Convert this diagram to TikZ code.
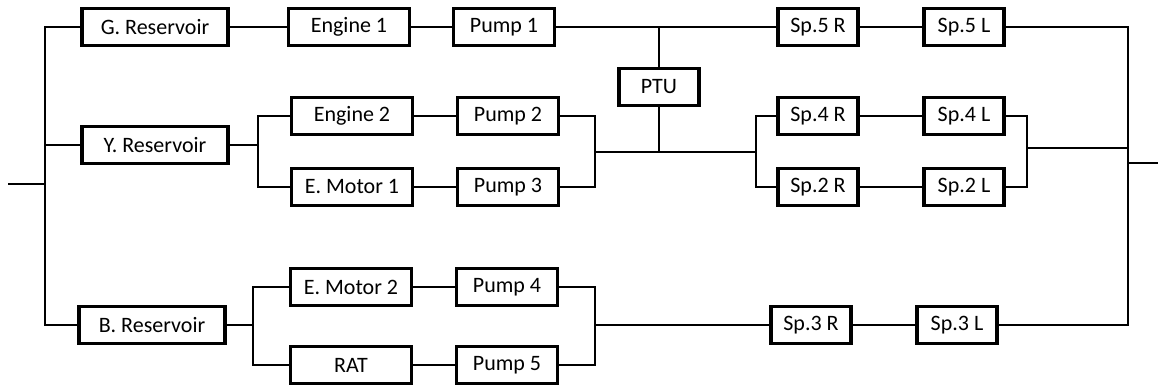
\documentclass[tikz,border=0pt]{standalone}
\usepackage{fontspec}
\setmainfont{Carlito}
\usetikzlibrary{positioning,calc}

\tikzset{
  blk/.style={draw, line width=1.8pt, minimum height=18.5pt, inner sep=0pt,
    font=\fontsize{11}{13}\selectfont},
  resbox/.style={blk, minimum width=73pt},
  drivebox/.style={blk, minimum width=60.5pt},
  pumpbox/.style={blk, minimum width=50.5pt},
  spbox/.style={blk, minimum width=40pt},
  wire/.style={line width=1.3pt}
}

\begin{document}
\begin{tikzpicture}[x=0.5pt,y=-0.5pt]
  \useasboundingbox (0,0) rectangle (1158,387);

  % green system
  \node[resbox] (gres) at (155,27) {G. Reservoir};
  \node[drivebox] (eng1) at (349,27) {Engine 1};
  \node[pumpbox] (pump1) at (504,27) {Pump 1};
  \node[spbox] (sp5r) at (818,27) {Sp.5 R};
  \node[spbox] (sp5l) at (964,27) {Sp.5 L};
  \node[spbox] (ptu) at (659,87) {PTU};

  % yellow system
  \node[resbox] (yres) at (155,145) {Y. Reservoir};
  \node[drivebox] (eng2) at (352,116) {Engine 2};
  \node[drivebox] (emot1) at (352,187) {E. Motor 1};
  \node[pumpbox] (pump2) at (508,116) {Pump 2};
  \node[pumpbox] (pump3) at (508,187) {Pump 3};
  \node[spbox] (sp4r) at (818,116) {Sp.4 R};
  \node[spbox] (sp4l) at (964,116) {Sp.4 L};
  \node[spbox] (sp2r) at (818,187) {Sp.2 R};
  \node[spbox] (sp2l) at (964,187) {Sp.2 L};

  % blue system
  \node[resbox] (bres) at (152,325) {B. Reservoir};
  \node[drivebox] (emot2) at (351,287) {E. Motor 2};
  \node[drivebox] (rat) at (351,365) {RAT};
  \node[pumpbox] (pump4) at (507,287) {Pump 4};
  \node[pumpbox] (pump5) at (507,365) {Pump 5};
  \node[spbox] (sp3r) at (811,325) {Sp.3 R};
  \node[spbox] (sp3l) at (957,325) {Sp.3 L};

  % junctions
  \coordinate (in) at (8,184);
  \coordinate (lbus) at (45,184);
  \coordinate (yj) at (258,145);
  \coordinate (pj) at (595,152);
  \coordinate (sj) at (756,152);
  \coordinate (slj) at (1027,148);
  \coordinate (bj) at (253,325);
  \coordinate (p45j) at (595,325);
  \coordinate (rbus) at (1128,163);
  \coordinate (out) at (1158,163);

  % input bus
  \draw[wire] (in) -- (lbus);
  \draw[wire] (gres.west) -| (lbus) |- (bres.west);
  \draw[wire] (yres.west) -- (yres.west -| lbus);

  % green line
  \draw[wire] (gres) -- (eng1);
  \draw[wire] (eng1) -- (pump1);
  \draw[wire] (pump1) -- (sp5r);
  \draw[wire] (sp5r) -- (sp5l);
  \draw[wire] (ptu.north) -- (ptu.north |- pump1);
  \draw[wire] (ptu.south) -- (ptu.south |- pj);

  % yellow line
  \draw[wire] (yres) -- (yj);
  \draw[wire] (eng2.west) -| (yj) |- (emot1.west);
  \draw[wire] (eng2) -- (pump2);
  \draw[wire] (emot1) -- (pump3);
  \draw[wire] (pump2.east) -| (pj) |- (pump3.east);
  \draw[wire] (pj) -- (sj);
  \draw[wire] (sp4r.west) -| (sj) |- (sp2r.west);
  \draw[wire] (sp4r) -- (sp4l);
  \draw[wire] (sp2r) -- (sp2l);
  \draw[wire] (sp4l.east) -| (slj) |- (sp2l.east);
  \draw[wire] (slj) -- (slj -| rbus);

  % blue line
  \draw[wire] (bres) -- (bj);
  \draw[wire] (emot2.west) -| (bj) |- (rat.west);
  \draw[wire] (emot2) -- (pump4);
  \draw[wire] (rat) -- (pump5);
  \draw[wire] (pump4.east) -| (p45j) |- (pump5.east);
  \draw[wire] (p45j) -- (sp3r);
  \draw[wire] (sp3r) -- (sp3l);

  % output bus
  \draw[wire] (sp5l.east) -| (rbus) |- (sp3l.east);
  \draw[wire] (rbus) -- (out);
\end{tikzpicture}
\end{document}
